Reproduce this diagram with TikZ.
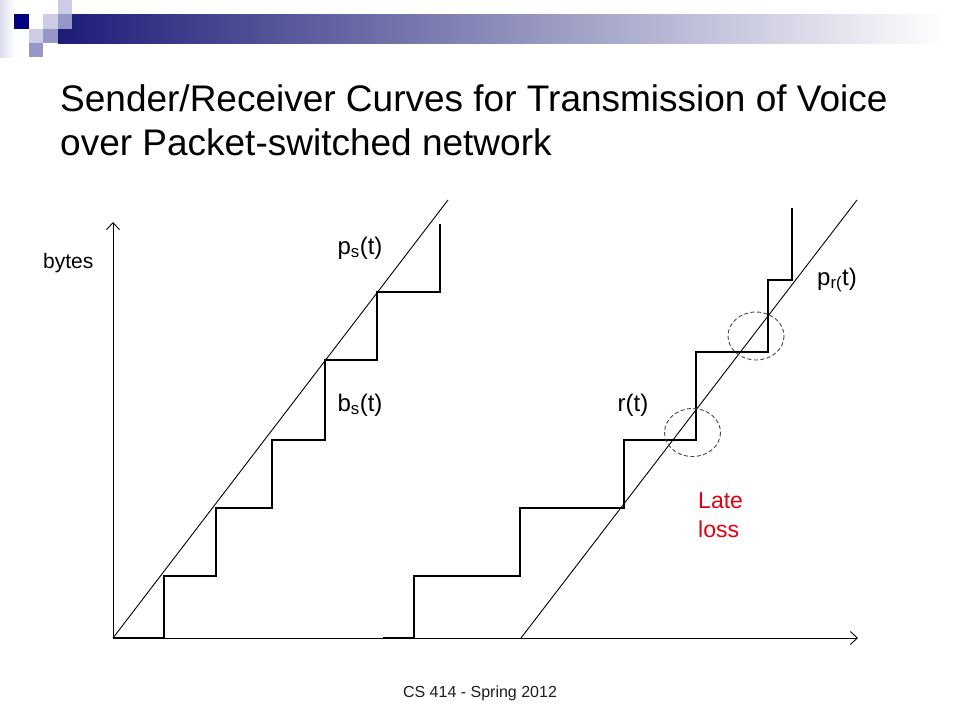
\documentclass[tikz,border=0pt]{standalone}
\usepackage{fontspec}
\setmainfont{Liberation Sans}
\usetikzlibrary{arrows.meta}
\definecolor{navyd}{RGB}{0,0,128}
\definecolor{sqlight}{RGB}{204,204,230}
\definecolor{sqmed}{RGB}{150,150,200}
\definecolor{bandL}{RGB}{28,28,120}
\definecolor{bandM}{RGB}{165,165,192}
\definecolor{latered}{RGB}{226,0,18}
\definecolor{ringgray}{RGB}{70,70,70}
\begin{document}
\begin{tikzpicture}[x=1pt,y=-1pt,
  stair/.style={line width=1.3pt, line join=miter},
  diag/.style={line width=0.9pt},
  axisline/.style={line width=0.9pt, -{Straight Barb[length=7pt,width=13pt]}},
  lossring/.style={draw=ringgray, line width=0.9pt, dash pattern=on 4pt off 2.5pt},
  lbl/.style={font=\fontsize{24}{28}\selectfont, inner sep=0pt},
  titletxt/.style={font=\fontsize{37}{44}\selectfont, inner sep=0pt, anchor=base west}]
\useasboundingbox (0,0) rectangle (960,720);
\fill[white] (0,0) rectangle (960,720);
% header decoration
\shade[left color=sqlight!70, right color=white] (0,0) rectangle (14,57);
\shade[left color=bandL, middle color=bandM, right color=white] (58,14) rectangle (945,43);
\fill[white] (14,0) rectangle (58,14);
\fill[sqlight] (58,0) rectangle (72,14);
\fill[navyd] (14,14) rectangle (29,29);
\fill[white] (29,14) rectangle (43,29);
\fill[sqlight] (43,14) rectangle (58,29);
\fill[sqmed] (58,14) rectangle (72,29);
\fill[sqlight] (29,29) rectangle (43,43);
\fill[sqmed] (43,29) rectangle (58,43);
\fill[sqmed] (29,43) rectangle (43,57);
% title
\node[titletxt] (t1) at (60,111) {Sender/Receiver Curves for Transmission of Voice};
\node[titletxt] (t2) at (60,155) {over Packet-switched network};
% axes
\coordinate (O) at (113,638);
\coordinate (ytip) at (113,222);
\coordinate (xtip) at (858,638);
\draw[axisline] (O) -- (ytip);
\draw[axisline] (O) -- (xtip);
% sender
\draw[diag] (O) -- (448,200);
\draw[stair] (O) -- (164,638) -- (164,576) -- (216,576) -- (216,508) -- (272,508) -- (272,440)
  -- (325,440) -- (325,360) -- (377,360) -- (377,292) -- (440,292) -- (440,224);
% receiver
\draw[diag] (521,638) -- (857,200);
\draw[stair] (383,638) -- (414,638) -- (414,576) -- (520,576) -- (520,508) -- (624,508) -- (624,440)
  -- (696,440) -- (696,352) -- (768,352) -- (768,280) -- (792,280) -- (792,208);
% late loss rings
\draw[lossring] (692.5,432.5) ellipse [x radius=28, y radius=24];
\draw[lossring] (756,336) ellipse [x radius=28, y radius=24];
% labels
\node[inner sep=0pt, anchor=base west, font=\fontsize{21}{25}\selectfont] (bytes) at (43,268) {bytes};
\node[lbl] (ps) at (360,248) {p\textsubscript{s}(t)};
\node[lbl] (bs) at (360,405) {b\textsubscript{s}(t)};
\node[lbl] (rt) at (633,405) {r(t)};
\node[lbl] (pr) at (837,280) {p\textsubscript{r(}t)};
\node[lbl, anchor=base west, text=latered, font=\fontsize{23}{28}\selectfont] (late) at (698,508) {Late};
\node[lbl, anchor=base west, text=latered, font=\fontsize{23}{28}\selectfont] (loss) at (698,537) {loss};
\node[inner sep=0pt, anchor=base, font=\fontsize{16}{19}\selectfont, text={rgb,255:red,30;green,30;blue,30}] (foot) at (480,697) {CS 414 - Spring 2012};
\end{tikzpicture}
\end{document}
